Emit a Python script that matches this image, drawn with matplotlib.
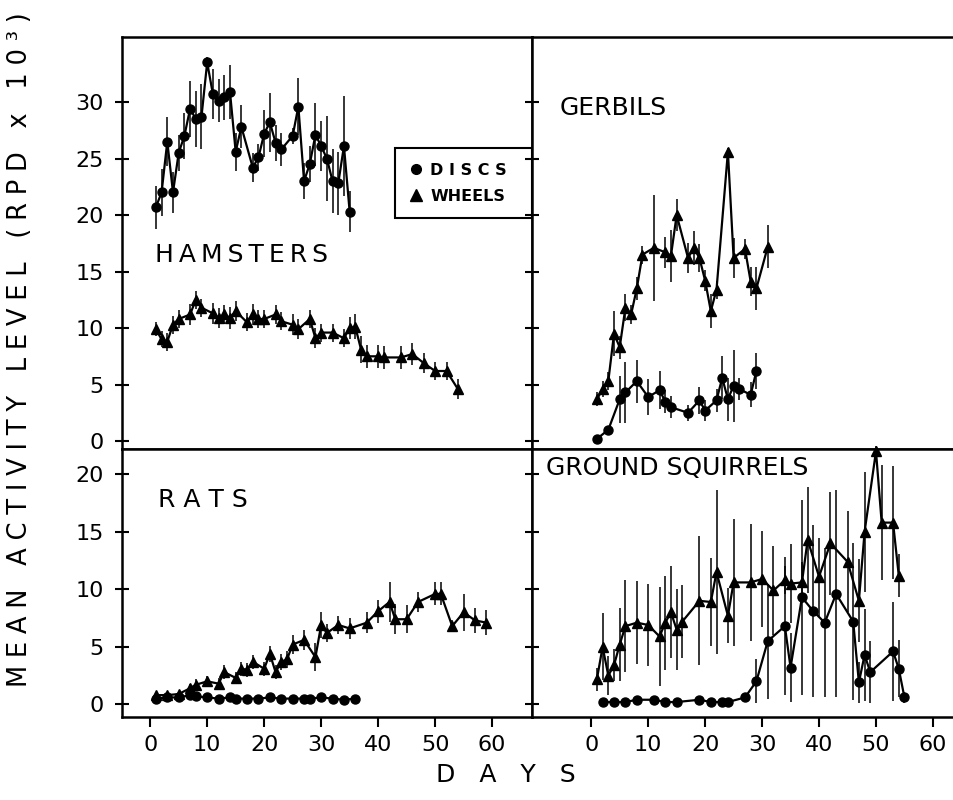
import matplotlib.pyplot as plt

# Hamsters - discs
ham_disc_days = [1, 2, 3, 4, 5, 6, 7, 8, 9, 10, 11, 12, 13, 14, 15, 16, 18, 19, 20, 21, 22, 23,
                 25, 26, 27, 28, 29, 30, 31, 32, 33, 34, 35]
ham_disc_vals = [20.7, 22.0, 26.5, 22.0, 25.5, 27.0, 29.4, 28.5, 28.7, 33.5, 30.7, 30.1, 30.4, 30.9,
                 25.6, 27.8, 24.2, 25.1, 27.2, 28.2, 26.4, 25.8, 27.0, 29.6, 23.0, 24.5, 27.1, 26.1,
                 25.0, 23.0, 22.8, 26.1, 20.3]
ham_disc_err = [1.9, 2.1, 2.2, 1.8, 1.6, 2.0, 2.5, 2.5, 2.9, 0.5, 2.2, 1.9, 2.0, 2.4, 1.7, 1.9,
                1.3, 1.2, 2.1, 2.6, 1.6, 1.5, 0.7, 2.5, 1.6, 1.6, 2.8, 2.2, 3.8, 2.8, 2.8, 4.4, 1.8]

# Hamsters - wheels
ham_wheel_days = [1, 2, 3, 4, 5, 7, 8, 9, 11, 12, 13, 14, 15, 17, 18, 19, 20, 22, 23, 25, 26, 28,
                  29, 30, 32, 34, 35, 36, 37, 38, 40, 41, 44, 46, 48, 50, 52, 54]
ham_wheel_vals = [9.9, 9.0, 8.8, 10.3, 10.8, 11.2, 12.5, 11.8, 11.3, 10.9, 11.2, 10.9, 11.5, 10.5,
                  11.2, 10.8, 10.8, 11.2, 10.6, 10.3, 9.9, 10.8, 9.1, 9.6, 9.6, 9.1, 10.0, 10.1,
                  8.1, 7.5, 7.5, 7.4, 7.4, 7.7, 6.9, 6.2, 6.2, 4.6]
ham_wheel_err = [0.6, 0.7, 0.8, 0.8, 0.8, 0.9, 0.8, 0.8, 0.9, 0.9, 0.8, 1.0, 0.9, 0.8, 0.9, 0.8,
                 0.8, 0.8, 0.8, 0.9, 0.9, 0.8, 0.9, 0.8, 0.8, 0.8, 1.0, 1.1, 1.2, 1.0, 1.0, 1.0,
                 1.0, 1.0, 0.9, 0.8, 0.8, 0.9]

# Gerbils
ger_wheel_days = [1, 2, 3, 4, 5, 6, 7, 8, 9, 11, 13, 14, 15, 17, 18, 19, 20, 21, 22, 24, 25, 27,
                  28, 29, 31]
ger_wheel_vals = [3.7, 4.6, 5.3, 9.5, 8.3, 11.8, 11.2, 13.5, 16.5, 17.1, 16.7, 16.4, 20.0, 16.2,
                  17.1, 16.2, 14.2, 11.5, 13.4, 25.6, 16.2, 17.0, 14.1, 13.5, 17.2]
ger_wheel_err = [0.6, 0.7, 0.8, 2.0, 1.0, 1.2, 0.8, 1.0, 0.8, 4.7, 1.4, 2.3, 1.4, 1.3, 1.5, 1.2,
                 0.9, 1.5, 0.8, 0.3, 1.8, 0.9, 1.3, 1.9, 1.9]
ger_disc_days = [1, 3, 5, 6, 8, 10, 12, 13, 14, 17, 19, 20, 22, 23, 24, 25, 26, 28, 29]
ger_disc_vals = [0.2, 1.0, 3.7, 4.3, 5.3, 3.9, 4.5, 3.5, 3.0, 2.5, 3.6, 2.7, 3.6, 5.6, 3.7, 4.9,
                 4.6, 4.1, 6.2]
ger_disc_err = [0.0, 0.0, 2.1, 2.7, 1.9, 1.6, 1.7, 1.0, 1.0, 0.7, 1.2, 0.9, 1.0, 1.9, 1.9, 3.2,
                1.0, 1.1, 1.6]

# Rats
rat_wheel_days = [1, 3, 5, 7, 8, 10, 12, 13, 15, 16, 17, 18, 20, 21, 22, 23, 24, 25, 27, 29, 30,
                  31, 33, 35, 38, 40, 42, 43, 45, 47, 50, 51, 53, 55, 57, 59]
rat_wheel_vals = [0.8, 0.8, 0.9, 1.4, 1.7, 2.0, 1.8, 2.8, 2.3, 3.1, 3.0, 3.7, 3.1, 4.4, 2.8, 3.7,
                  3.9, 5.2, 5.6, 4.1, 6.9, 6.2, 6.9, 6.6, 7.1, 8.1, 8.9, 7.4, 7.4, 8.9, 9.6, 9.6,
                  6.8, 8.0, 7.3, 7.1]
rat_wheel_err = [0.3, 0.3, 0.3, 0.4, 0.5, 0.5, 0.5, 0.6, 0.5, 0.6, 0.6, 0.6, 0.6, 0.7, 0.6, 0.7,
                 0.7, 0.8, 0.9, 1.2, 1.1, 0.8, 0.8, 0.9, 0.9, 1.0, 1.7, 1.3, 1.2, 0.9, 1.0, 1.0,
                 0.5, 1.6, 1.1, 1.1]
rat_disc_days = [1, 3, 5, 7, 8, 10, 12, 14, 15, 17, 19, 21, 23, 25, 27, 28, 30, 32, 34, 36]
rat_disc_vals = [0.5, 0.6, 0.6, 0.8, 0.7, 0.6, 0.5, 0.6, 0.5, 0.5, 0.5, 0.6, 0.5, 0.5, 0.5, 0.5,
                 0.6, 0.5, 0.4, 0.5]

# Ground squirrels
gs_wheel_days = [1, 2, 3, 4, 5, 6, 8, 10, 12, 13, 14, 15, 16, 19, 21, 22, 24, 25, 28, 30, 32, 34,
                 35, 37, 38, 40, 42, 45, 47, 48, 50, 51, 53, 54]
gs_wheel_vals = [2.2, 5.0, 2.5, 3.4, 5.2, 6.8, 7.1, 6.9, 5.9, 7.1, 8.0, 6.5, 7.2, 9.0, 8.9, 11.5,
                 7.7, 10.6, 10.6, 10.9, 9.9, 10.8, 10.5, 10.6, 14.3, 11.1, 14.0, 12.4, 9.0, 15.0,
                 22.0, 15.8, 15.8, 11.2]
gs_wheel_err = [1.0, 2.9, 1.7, 1.4, 3.2, 4.0, 3.6, 3.6, 4.3, 4.1, 4.0, 3.5, 3.2, 5.6, 3.8, 7.1,
                2.4, 5.5, 5.1, 4.2, 3.9, 1.2, 3.4, 1.8, 4.6, 3.4, 4.5, 4.4, 3.6, 5.2, 0.5, 5.0,
                4.9, 1.9]
gs_disc_days = [2, 4, 6, 8, 11, 13, 15, 19, 21, 23, 24, 27, 29, 31, 34, 35, 37, 39, 41, 43, 46,
                47, 48, 49, 53, 54, 55]
gs_disc_vals = [0.2, 0.2, 0.2, 0.4, 0.4, 0.2, 0.2, 0.4, 0.2, 0.2, 0.2, 0.6, 2.0, 5.5, 6.8, 3.2,
                9.3, 8.1, 7.1, 9.6, 7.2, 1.9, 4.3, 2.8, 4.6, 3.1, 0.6]
gs_disc_err = [0, 0, 0, 0, 0, 0, 0, 0, 0, 0, 0, 0.3, 1.9, 5.0, 6.0, 3.0, 8.5, 7.5, 6.5, 9.0, 6.8,
               1.8, 4.0, 2.7, 4.3, 2.5, 0.5]

top_ticks = [0, 5, 10, 15, 20, 25, 30]
bot_ticks = [0, 5, 10, 15, 20]
day_ticks = [0, 10, 20, 30, 40, 50, 60]


def spaced(s, sep="\u2009"):
    return sep.join(s)


def draw(ax, days, vals, err, marker, ms):
    ax.errorbar(days, vals, yerr=err, fmt="-" + marker, color="black", ms=ms, lw=1.6,
                elinewidth=1.1, capsize=0, clip_on=False)


fig = plt.figure(figsize=(9.54, 8), dpi=100)
L, M, R = 121.7 / 954, 532 / 954, 1.0
T, MID, B = 1 - 37 / 800, 1 - 449 / 800, 1 - 717 / 800

ax_h = fig.add_axes([L, MID, M - L, T - MID])
ax_g = fig.add_axes([M, MID, R - M, T - MID])
ax_r = fig.add_axes([L, B, M - L, MID - B])
ax_s = fig.add_axes([M, B, R - M, MID - B])

draw(ax_h, ham_disc_days, ham_disc_vals, ham_disc_err, "o", 6.5)
draw(ax_h, ham_wheel_days, ham_wheel_vals, ham_wheel_err, "^", 7.5)
draw(ax_g, ger_wheel_days, ger_wheel_vals, ger_wheel_err, "^", 7.5)
draw(ax_g, ger_disc_days, ger_disc_vals, ger_disc_err, "o", 6.5)
draw(ax_r, rat_wheel_days, rat_wheel_vals, rat_wheel_err, "^", 7.5)
ax_r.plot(rat_disc_days, rat_disc_vals, "-o", color="black", ms=6.5, lw=1.6)
draw(ax_s, gs_wheel_days, gs_wheel_vals, gs_wheel_err, "^", 7.5)
draw(ax_s, gs_disc_days, gs_disc_vals, gs_disc_err, "o", 6.5)

for ax in (ax_h, ax_r):
    ax.set_xlim(-5, 67)
for ax in (ax_g, ax_s):
    ax.set_xlim(-10.4, 63.7)
for ax in (ax_h, ax_g):
    ax.set_ylim(-0.7, 35.75)
    ax.set_yticks(top_ticks)
    ax.set_xticks([])
for ax in (ax_r, ax_s):
    ax.set_ylim(-1.1, 22.2)
    ax.set_yticks(bot_ticks)
    ax.set_xticks(day_ticks)
    ax.tick_params(axis="x", direction="out", length=7, width=1.5, labelsize=16, pad=6)

for ax in (ax_h, ax_g, ax_r, ax_s):
    ax.tick_params(axis="y", direction="inout", length=10, width=1.5, labelsize=16, pad=8)
    for sp in ax.spines.values():
        sp.set_linewidth(1.8)
for ax in (ax_g, ax_s):
    ax.spines["right"].set_visible(False)
    ax.set_yticklabels([])

ax_h.text(0.081, 0.471, spaced("HAMSTERS"), transform=ax_h.transAxes, fontsize=18, va="center")
ax_g.text(0.066, 0.828, "GERBILS", transform=ax_g.transAxes, fontsize=18, va="center")
ax_r.text(0.088, 0.81, "R A T S", transform=ax_r.transAxes, fontsize=18, va="center")
ax_s.text(0.033, 0.929, "GROUND SQUIRRELS", transform=ax_s.transAxes, fontsize=18,
          va="center")

leg = ax_h.legend(
    handles=[
        plt.Line2D([], [], ls="none", marker="o", color="black", ms=7),
        plt.Line2D([], [], ls="none", marker="^", color="black", ms=8),
    ],
    labels=["D I S C S", "WHEELS"],
    loc="center", bbox_to_anchor=(0.666, 0.556, 0.334, 0.178), mode="expand",
    borderaxespad=0, fancybox=False, edgecolor="black", framealpha=1, handlelength=0.8,
    handletextpad=0.5, borderpad=0.9, labelspacing=0.7,
    prop={"weight": "bold", "size": 11.5},
)
leg.get_frame().set_linewidth(1.5)

fig.text(0.021, 0.563, spaced("MEAN ACTIVITY LEVEL (RPD x 10³)", "\u2009\u200a"),
         rotation=90, fontsize=18.5, ha="center", va="center")
fig.text(0.53, 0.031, "D   A   Y   S", fontsize=18, ha="center", va="center")

fig.savefig("out.png", dpi=100)
